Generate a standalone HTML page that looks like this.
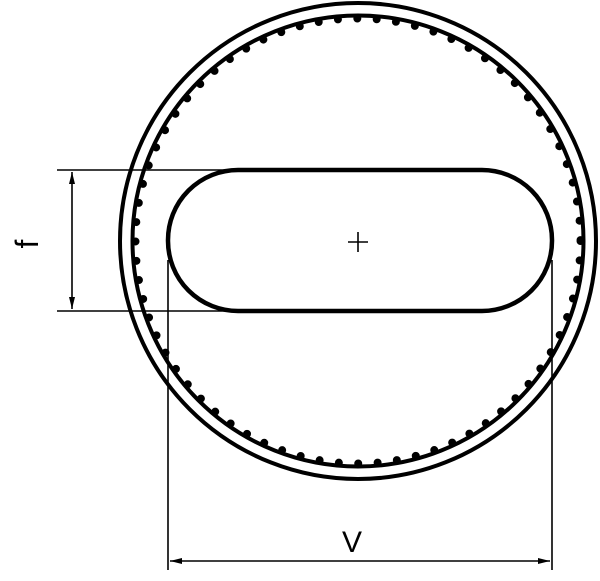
<!DOCTYPE html>
<html><head><style>body{margin:0;background:#fff}svg{display:block}</style></head><body>
<svg width="600" height="581" viewBox="0 0 600 581" xmlns="http://www.w3.org/2000/svg">
<text x="352" y="552" font-family="'Liberation Sans', sans-serif" font-size="30" text-anchor="middle" fill="#000">V</text>
<text x="0" y="0" transform="translate(38,244) rotate(-90)" font-family="'Liberation Sans', sans-serif" font-size="32" text-anchor="middle" fill="#000">f</text>
<defs>
<marker id="a" viewBox="0 0 12 6" refX="12" refY="3" markerWidth="12" markerHeight="6" orient="auto-start-reverse" markerUnits="userSpaceOnUse"><path d="M0,0 L12,3 L0,6 z" fill="#000"/></marker>
</defs>
<g fill="none" stroke="#000">
<circle cx="358" cy="241" r="238" stroke-width="4"/>
<circle cx="358" cy="241" r="225.5" stroke-width="4"/>
<circle cx="358" cy="241" r="222.5" stroke-width="8" stroke-dasharray="0 19.4" stroke-linecap="round"/>
<rect x="168" y="170" width="384" height="141" rx="70" stroke-width="4.5"/>
<g stroke-width="1.6">
<line x1="57" y1="170" x2="230" y2="170"/>
<line x1="57" y1="311" x2="230" y2="311"/>
<line x1="72" y1="172" x2="72" y2="309" marker-start="url(#a)" marker-end="url(#a)"/>
<line x1="168" y1="260" x2="168" y2="570"/>
<line x1="552" y1="260" x2="552" y2="570"/>
<line x1="170" y1="561" x2="550" y2="561" marker-start="url(#a)" marker-end="url(#a)"/>
<line x1="348" y1="242" x2="368" y2="242"/>
<line x1="358" y1="232" x2="358" y2="252"/>
</g>
</g>
</svg>
</body></html>
